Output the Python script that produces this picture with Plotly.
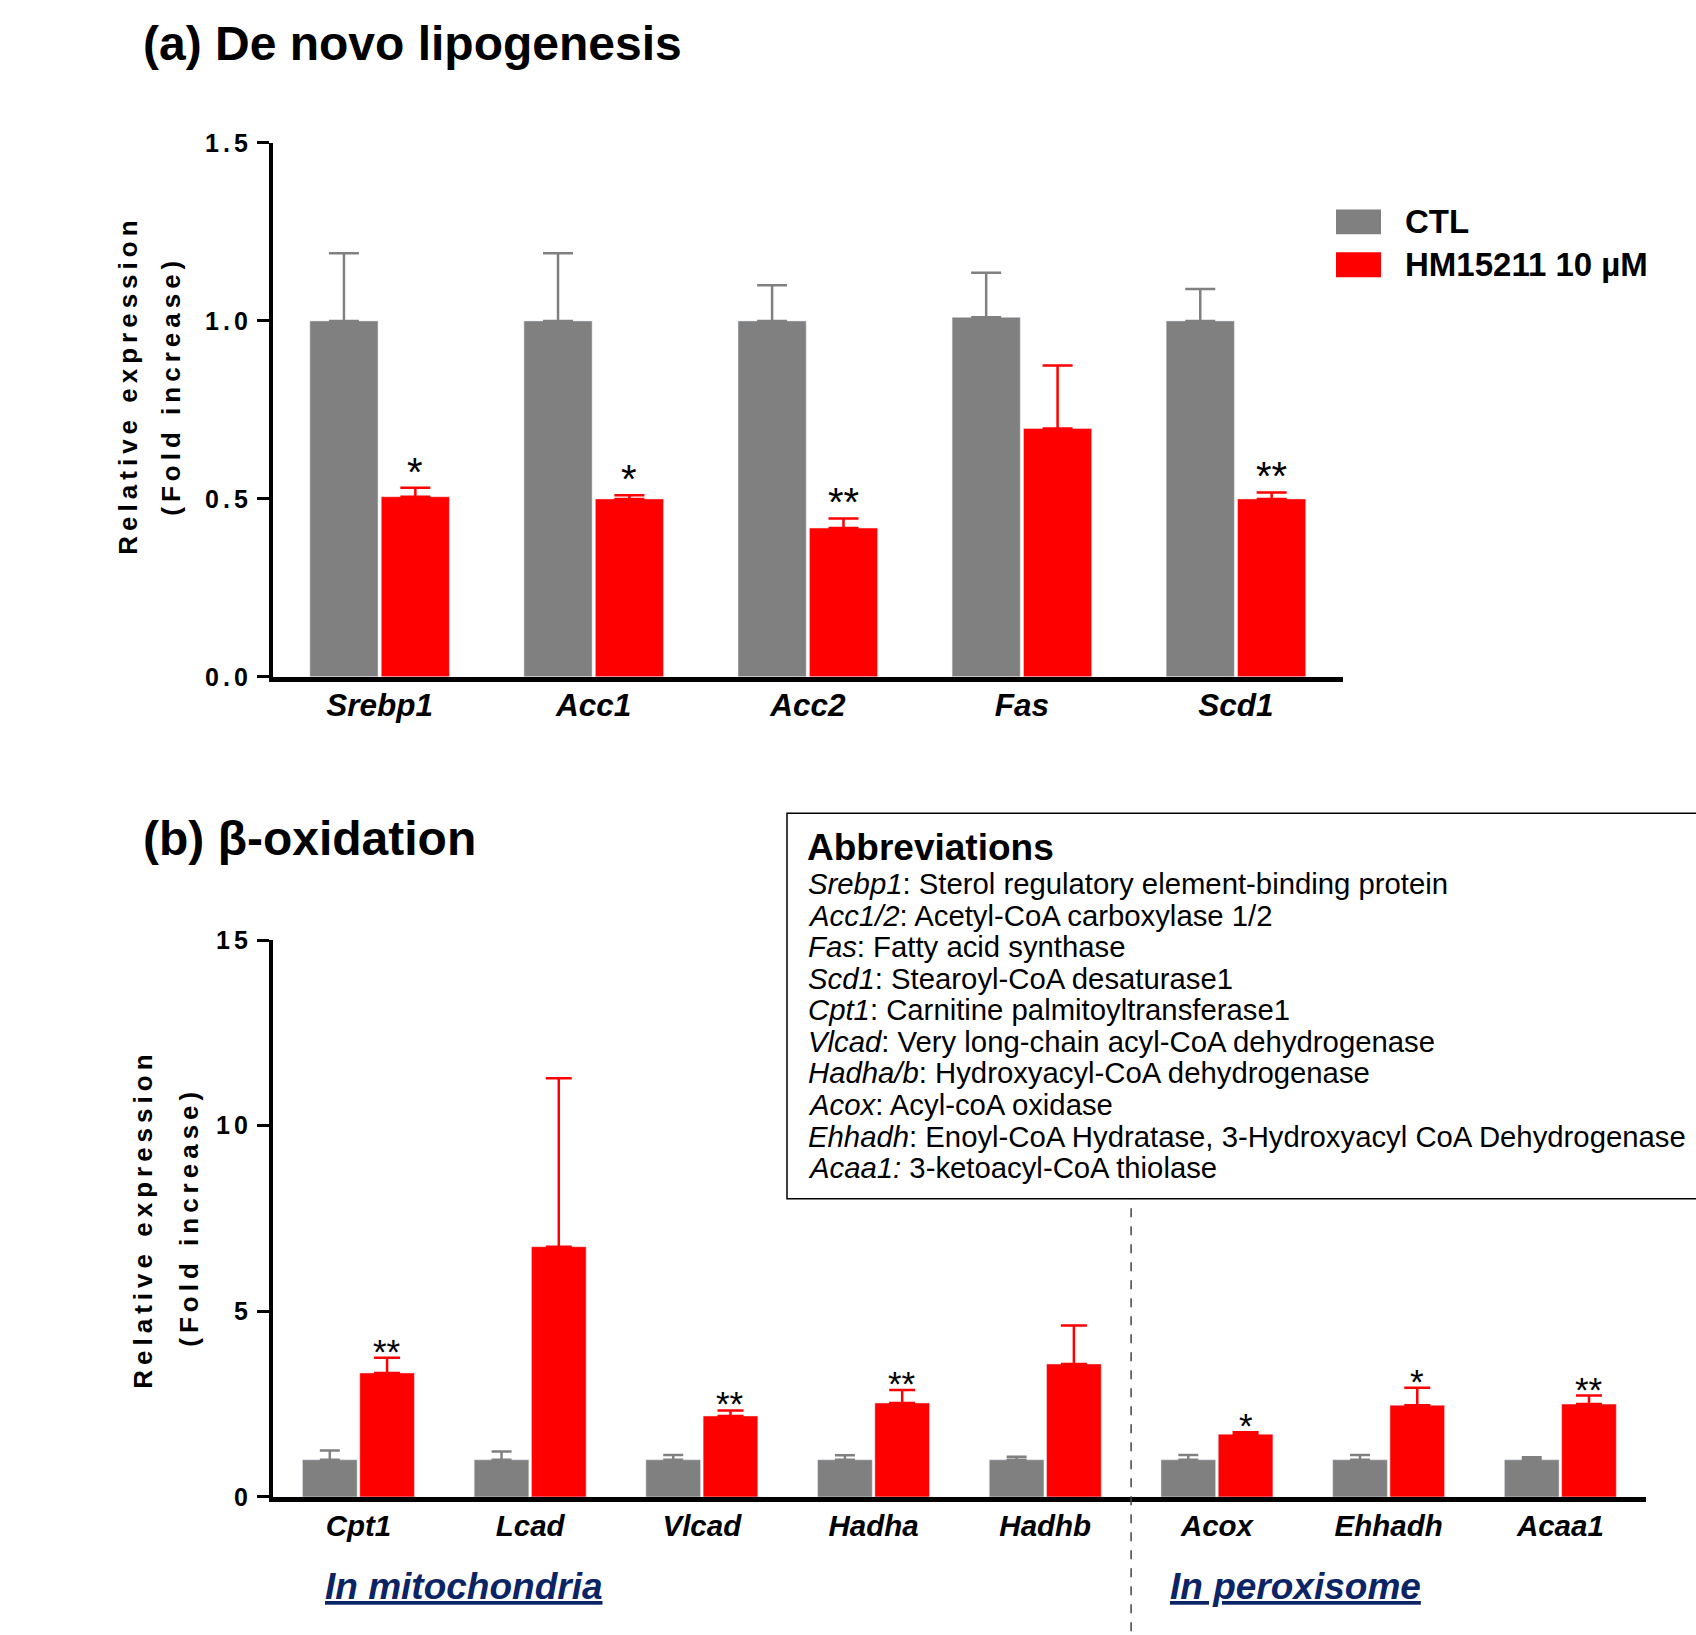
import plotly.graph_objects as go

W, H = 1696, 1635

# ---------------- data ----------------
lipo_genes = ["Srebp1", "Acc1", "Acc2", "Fas", "Scd1"]
lipo_ctl = [1.0, 1.0, 1.0, 1.01, 1.0]
lipo_ctl_err = [0.19, 0.19, 0.10, 0.125, 0.09]
lipo_hm = [0.506, 0.50, 0.418, 0.698, 0.50]
lipo_hm_err = [0.025, 0.01, 0.027, 0.177, 0.018]
lipo_sig = ["*", "*", "**", "", "**"]
lipo_tickvals = [0, 0.5, 1.0, 1.5]
lipo_ticktext = ["0.0", "0.5", "1.0", "1.5"]

beta_genes = ["Cpt1", "Lcad", "Vlcad", "Hadha", "Hadhb", "Acox", "Ehhadh", "Acaa1"]
beta_ctl = [1.0, 1.0, 1.0, 1.0, 1.0, 1.0, 1.0, 1.0]
beta_ctl_err = [0.25, 0.22, 0.13, 0.12, 0.08, 0.13, 0.13, 0.07]
beta_hm = [3.34, 6.74, 2.18, 2.53, 3.58, 1.69, 2.47, 2.50]
beta_hm_err = [0.41, 4.54, 0.15, 0.35, 1.04, 0.05, 0.47, 0.23]
beta_sig = ["**", "", "**", "**", "", "*", "*", "**"]
beta_tickvals = [0, 5, 10, 15]
beta_ticktext = ["0", "5", "10", "15"]

series_names = ["CTL", "HM15211 10 µM"]
abbrev_lines = [
    "<i>Srebp1</i>: Sterol regulatory element-binding protein",
    "<i>Acc1/2</i>: Acetyl-CoA carboxylase 1/2",
    "<i>Fas</i>: Fatty acid synthase",
    "<i>Scd1</i>: Stearoyl-CoA desaturase1",
    "<i>Cpt1</i>: Carnitine palmitoyltransferase1",
    "<i>Vlcad</i>: Very long-chain acyl-CoA dehydrogenase",
    "<i>Hadha/b</i>: Hydroxyacyl-CoA dehydrogenase",
    "<i>Acox</i>: Acyl-coA oxidase",
    "<i>Ehhadh</i>: Enoyl-CoA Hydratase, 3-Hydroxyacyl CoA Dehydrogenase",
    "<i>Acaa1:</i> 3-ketoacyl-CoA thiolase",
]

# ---------------- style ----------------
GRAY = "#808080"
RED = "#FF0000"
NAVY = "#0B2466"
FONT = "Liberation Sans, Arial, sans-serif"
BARGAP = 0.333
BARGROUPGAP = 0.045

# vertical calibration of the layout (pixel rows of the target picture)
SCALE_Y = 0.984
OFF_Y = 10.9


def px(x):
    return x / W


def py(y):
    return 1 - ((y - OFF_Y) / SCALE_Y) / H


dom_a_x = [px(272.6), px(1343)]
dom_a_y = [py(674.5), py(140)]
dom_b_x = [px(272.6), px(1646.2)]
dom_b_y = [py(1495.5), py(938)]


def spaced(t, sp):
    return "<span style='letter-spacing:%dpx'>%s</span>" % (sp, t)


fig = go.Figure()


def err(arr, color, width):
    return dict(type="data", symmetric=False, array=arr, arrayminus=[0] * len(arr),
                color=color, thickness=2.5, width=width, visible=True)


fig.add_trace(go.Bar(x=lipo_genes, y=lipo_ctl, name=series_names[0], marker_color=GRAY,
                     error_y=err(lipo_ctl_err, GRAY, 15), xaxis="x", yaxis="y", showlegend=False))
fig.add_trace(go.Bar(x=lipo_genes, y=lipo_hm, name=series_names[1], marker_color=RED,
                     error_y=err(lipo_hm_err, RED, 15), xaxis="x", yaxis="y", showlegend=False))
fig.add_trace(go.Bar(x=beta_genes, y=beta_ctl, name=series_names[0], marker_color=GRAY,
                     error_y=err(beta_ctl_err, GRAY, 10), xaxis="x2", yaxis="y2", showlegend=False))
fig.add_trace(go.Bar(x=beta_genes, y=beta_hm, name=series_names[1], marker_color=RED,
                     error_y=err(beta_hm_err, RED, 13), xaxis="x2", yaxis="y2", showlegend=False))

ann = []

# significance stars
cat_w_a = (dom_a_x[1] - dom_a_x[0]) * W / len(lipo_genes)
off_a = (1 - BARGAP) * cat_w_a / 4
for g, v, e, s in zip(lipo_genes, lipo_hm, lipo_hm_err, lipo_sig):
    if s:
        ann.append(dict(x=g, y=v + e, xref="x", yref="y", text=s, showarrow=False,
                        xshift=off_a, yanchor="bottom", yshift=-8,
                        font=dict(size=40, color="black", family=FONT)))
cat_w_b = (dom_b_x[1] - dom_b_x[0]) * W / len(beta_genes)
off_b = (1 - BARGAP) * cat_w_b / 4
for g, v, e, s in zip(beta_genes, beta_hm, beta_hm_err, beta_sig):
    if s:
        ann.append(dict(x=g, y=v + e, xref="x2", yref="y2", text=s, showarrow=False,
                        xshift=off_b, yanchor="bottom", yshift=-15,
                        font=dict(size=35, color="black", family=FONT)))

# titles
ann.append(dict(x=px(141), y=py(40), xref="paper", yref="paper", xanchor="left", yanchor="middle",
                text="<b>(a) De novo lipogenesis</b>", showarrow=False,
                font=dict(size=48, color="black", family=FONT)))
ann.append(dict(x=px(141), y=py(836), xref="paper", yref="paper", xanchor="left", yanchor="middle",
                text="<b>(b) β-oxidation</b>", showarrow=False,
                font=dict(size=48, color="black", family=FONT)))

# y axis titles
for xc, yc, t in [(128, 383, "Relative expression"), (171, 383, "(Fold increase)"),
                  (143, 1218, "Relative expression"), (189, 1215, "(Fold increase)")]:
    ann.append(dict(x=px(xc), y=py(yc), xref="paper", yref="paper", xanchor="center", yanchor="middle",
                    textangle=-90, text="<b>" + spaced(t, 5) + "</b>", showarrow=False,
                    font=dict(size=26, color="black", family=FONT)))

# legend
shapes = []
for i, (nm, col) in enumerate(zip(series_names, [GRAY, RED])):
    yc = 219 + i * 43
    shapes.append(dict(type="rect", xref="paper", yref="paper", x0=px(1336), x1=px(1381),
                       y0=py(yc + 12.5), y1=py(yc - 12.5), fillcolor=col, line=dict(width=0)))
    ann.append(dict(x=px(1403), y=py(yc), xref="paper", yref="paper", xanchor="left", yanchor="middle",
                    text="<b>" + nm + "</b>", showarrow=False,
                    font=dict(size=33, color="black", family=FONT)))

# abbreviations box
shapes.append(dict(type="rect", xref="paper", yref="paper", x0=px(787), x1=px(1730),
                   y0=py(1197), y1=py(811), line=dict(color="black", width=1.5), fillcolor="rgba(0,0,0,0)"))
ann.append(dict(x=px(805), y=py(845), xref="paper", yref="paper", xanchor="left", yanchor="middle",
                text="<b>Abbreviations</b>", showarrow=False,
                font=dict(size=37, color="black", family=FONT)))
for i, line in enumerate(abbrev_lines):
    ann.append(dict(x=px(806), y=py(881.5 + i * 31.6), xref="paper", yref="paper",
                    xanchor="left", yanchor="middle", text=line, showarrow=False,
                    font=dict(size=29.3, color="black", family=FONT)))

# dashed separator
shapes.append(dict(type="line", xref="x2", yref="paper", x0=4.5, x1=4.5, y0=py(1630), y1=py(1197),
                   line=dict(color="#444444", width=1.5, dash="dash")))

# compartment labels
for xc, t in [(464, "In mitochondria"), (1295, "In peroxisome")]:
    ann.append(dict(x=px(xc), y=py(1585), xref="paper", yref="paper", xanchor="center", yanchor="middle",
                    text="<b><i><u>" + t + "</u></i></b>", showarrow=False,
                    font=dict(size=37, color=NAVY, family=FONT)))

common_x = dict(showgrid=False, zeroline=False, showline=True, linecolor="black", linewidth=4.5,
                ticks="", type="category",
                tickfont=dict(family=FONT, color="black", weight="bold", style="italic"))
common_y = dict(showgrid=False, zeroline=False, showline=True, linecolor="black", linewidth=3.5,
                ticks="outside", ticklen=12, tickwidth=3, tickcolor="black", ticklabelstandoff=0,
                tickfont=dict(family=FONT, color="black", size=25, weight="bold"))

fig.update_layout(
    width=W, height=H, margin=dict(l=0, r=0, t=0, b=0),
    paper_bgcolor="white", plot_bgcolor="white",
    barmode="group", bargap=BARGAP, bargroupgap=BARGROUPGAP,
    showlegend=False,
    xaxis=dict(domain=dom_a_x, anchor="y", range=[-0.5, 4.5], ticklabelstandoff=-3, **common_x),
    yaxis=dict(domain=dom_a_y, anchor="x", range=[0, 1.5], tickvals=lipo_tickvals,
               ticktext=[spaced(t, 4) for t in lipo_ticktext], **common_y),
    xaxis2=dict(domain=dom_b_x, anchor="y2", range=[-0.5, 7.5], ticklabelstandoff=-1, **common_x),
    yaxis2=dict(domain=dom_b_y, anchor="x2", range=[0, 15], tickvals=beta_tickvals,
                ticktext=[spaced(t, 4) for t in beta_ticktext], **common_y),
    annotations=ann, shapes=shapes,
)
fig.update_xaxes(tickfont_size=31.5, selector=dict(anchor="y"))
fig.update_xaxes(tickfont_size=29.5, selector=dict(anchor="y2"))

fig.write_html("out.html", config={"displayModeBar": False},
               post_script="document.body.style.margin='0';")
